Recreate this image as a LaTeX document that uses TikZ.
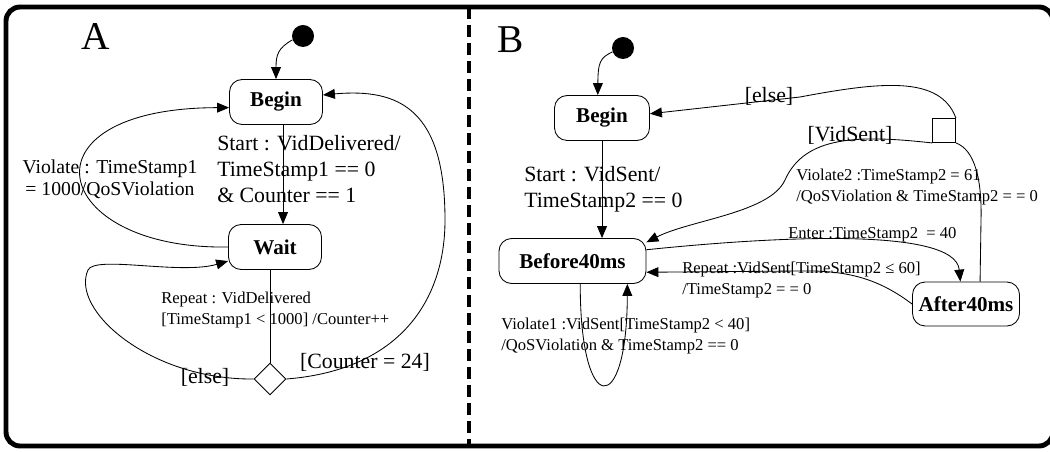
\documentclass[tikz,border=0pt]{standalone}
\usepackage{fontspec}
\setmainfont{Liberation Serif}
\usetikzlibrary{arrows.meta,shapes.geometric}

\tikzset{
  state/.style={draw, line width=0.6pt, rounded corners=9pt, minimum height=1.125cm,
    inner sep=0pt, font=\fontsize{15}{18}\selectfont\bfseries},
  initial/.style={circle, fill=black, minimum size=0.55cm, inner sep=0pt},
  title/.style={inner sep=0pt, font=\fontsize{28}{28}\selectfont},
  biglbl/.style={anchor=west, inner sep=0pt, align=left, font=\fontsize{15.5}{18.5}\selectfont},
  midlbl/.style={inner sep=0pt, align=center, font=\fontsize{14}{15.6}\selectfont},
  smalllbl/.style={anchor=west, inner sep=0pt, align=left, font=\fontsize{11.8}{14.8}\selectfont},
  arr/.style={-{Triangle[length=8.5pt,width=7pt]}, line width=0.6pt},
  conn/.style={line width=0.6pt}
}

\begin{document}
\begin{tikzpicture}[x=0.025cm,y=-0.025cm]
\useasboundingbox (0,0) rectangle (1050,452);
\draw[line width=3.5pt, rounded corners=10pt] (6,7) rectangle (1053,446);
\draw[line width=3.5pt, dash pattern=on 8.5pt off 4.3pt] (469,7) -- (469,446);

\node[title] (titleA) at (96,37) {A};
\node[initial] (initA) at (303,36) {};
\node[state, minimum width=2.325cm] (beginA) at (276,102) {Begin};
\node[state, minimum width=2.325cm] (waitA) at (275,247) {Wait};
\node[draw, diamond, line width=0.6pt, minimum width=0.8cm, minimum height=0.8cm, inner sep=0pt] (decA) at (270,379) {};

\draw[arr] (initA.200) .. controls (278,48) and (276,55) .. (beginA.north);
\draw[arr] ([xshift=5pt]beginA.south) -- ([xshift=5pt]beginA.south |- waitA.north);
\draw[arr] (waitA.west) .. controls (50,250) and (15,108) .. ([yshift=-4pt]beginA.west);
\draw[conn] (decA.north) -- (decA.north |- waitA.south);
\draw[arr] (decA.west) .. controls (150,380) and (70,310) .. (88,270) .. controls (95,255) and (180,275) .. ([yshift=-10pt]waitA.west);
\draw[arr] (decA.east) .. controls (400,370) and (445,300) .. (445,220) .. controls (445,110) and (400,88) .. ([yshift=5pt]beginA.east);

\node[biglbl] (startA) at (217,169) {Start : VidDelivered/\\TimeStamp1 == 0\\\& Counter == 1};
\node[midlbl] (violA) at (110,179) {Violate : TimeStamp1\\ = 1000/QoSViolation};
\node[smalllbl] (repA) at (161,310) {Repeat : VidDelivered\\{}[TimeStamp1 < 1000] /Counter++};
\node[biglbl, anchor=center] (cntA) at (365,362) {[Counter = 24]};
\node[biglbl, anchor=center] (elseA) at (205,377) {[else]};

\node[title] (titleB) at (511,40) {B};
\node[initial] (initB) at (623,48) {};
\node[state, minimum width=2.375cm] (beginB) at (602,118) {Begin};
\node[state, minimum width=3.675cm] (befB) at (572.5,261) {Before40ms};
\node[state, minimum width=2.675cm, minimum height=1.1cm] (aftB) at (966,304) {After40ms};
\node[draw, line width=0.6pt, minimum width=0.575cm, minimum height=0.6cm, inner sep=0pt] (choiceB) at (944,130.5) {};

\draw[arr] (initB.200) .. controls (600,58) and (598,62) .. ([xshift=-3pt]beginB.north);
\draw[arr] (beginB.south) -- (beginB.south |- befB.north);
\draw[arr] (choiceB.north east) .. controls (940,75) and (880,82) .. (800,97) -- ([yshift=3pt]beginB.east);
\draw[arr] (choiceB.south west) .. controls (860,135) and (805,135) .. (785,180) .. controls (770,213) and (690,220) .. ([yshift=-3pt]befB.north east);
\draw[conn] (choiceB.south east) .. controls (975,150) and (982,180) .. (981,220) -- ([xshift=10pt]aftB.north);
\draw[arr] ([yshift=8pt]befB.east) .. controls (760,238) and (955,225) .. ([xshift=-4pt]aftB.north);
\draw[arr] (aftB.west) .. controls (880,280) and (850,270) .. (800,271) -- ([yshift=-8pt]befB.east);
\draw[arr] ([xshift=5.5pt]befB.south) .. controls (580,418) and (627,418) .. ([xshift=39pt]befB.south);

\node[biglbl] (startB) at (524,189) {Start : VidSent/\\TimeStamp2 == 0};
\node[biglbl, anchor=center] (elseB) at (769,96) {[else]};
\node[biglbl, anchor=center] (sentB) at (850,135) {[VidSent]};
\node[smalllbl] (viol2B) at (796,187) {Violate2 :TimeStamp2 = 61\\/QoSViolation \& TimeStamp2 = = 0};
\node[smalllbl] (enterB) at (788,235) {Enter :TimeStamp2 \ = 40};
\node[smalllbl] (repB) at (682,280) {Repeat :VidSent[TimeStamp2 ≤ 60]\\/TimeStamp2 = = 0};
\node[smalllbl] (viol1B) at (501,336) {Violate1 :VidSent[TimeStamp2 < 40]\\/QoSViolation \& TimeStamp2 == 0};
\end{tikzpicture}
\end{document}
